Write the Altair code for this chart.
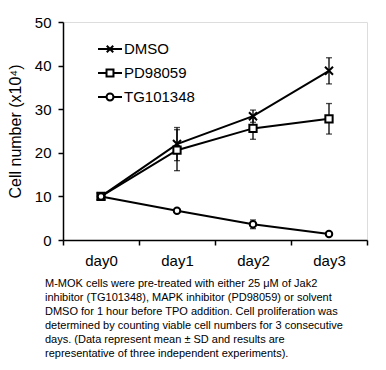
import altair as alt
import pandas as pd

days = ["day0", "day1", "day2", "day3"]
series = ["DMSO", "PD98059", "TG101348"]
dmso_mean = [10.0, 22.0, 28.4, 38.8]
dmso_sd = [0.0, 3.8, 1.4, 3.0]
pd_mean = [10.0, 20.6, 25.6, 27.8]
pd_sd = [0.0, 4.7, 2.5, 3.5]
tg_mean = [10.0, 6.7, 3.6, 1.4]
tg_sd = [0.0, 0.4, 1.0, 0.4]

caption = [
    "M-MOK cells were pre-treated with either 25 \u03bcM of Jak2",
    "inhibitor (TG101348), MAPK inhibitor (PD98059) or solvent",
    "DMSO for 1 hour before TPO addition. Cell proliferation was",
    "determined by counting viable cell numbers for 3 consecutive",
    "days. (Data represent mean \u00b1 SD and results are",
    "representative of three independent experiments).",
]

rows = []
for name, means, sds in [("DMSO", dmso_mean, dmso_sd), ("PD98059", pd_mean, pd_sd), ("TG101348", tg_mean, tg_sd)]:
    for d, m, s in zip(days, means, sds):
        rows.append({"day": d, "series": name, "mean": m, "lo": m - s, "hi": m + s, "sd": s})
df = pd.DataFrame(rows)

FONT = "Liberation Sans"

x_enc = alt.X(
    "day:N",
    sort=days,
    scale=alt.Scale(type="band", paddingInner=0, paddingOuter=0),
    axis=alt.Axis(
        title=None, tickBand="extent", labelAngle=0, labelFontSize=15,
        labelFont=FONT, labelColor="black", labelPadding=8, tickSize=5,
        tickColor="black", tickWidth=1.5, domainColor="black", domainWidth=1.5,
        grid=False,
    ),
)
y_scale = alt.Scale(domain=[0, 50], nice=False, zero=True)
y_axis = alt.Axis(
    title="Cell number (x10\u2074)", values=[0, 10, 20, 30, 40, 50],
    labelFontSize=15, labelFont=FONT, labelColor="black", labelPadding=7,
    tickSize=5, tickColor="black", tickWidth=1.5, domainColor="black",
    domainWidth=1.5, grid=False, titleFont=FONT, titleFontSize=16,
    titleFontWeight="normal", titleColor="black", titlePadding=11,
)

base = alt.Chart(df)

err = base.transform_filter("datum.sd > 0").mark_rule(color="black", strokeWidth=1.3).encode(
    x=x_enc, y=alt.Y("lo:Q", scale=y_scale, axis=y_axis), y2="hi:Q"
)
cap_lo = base.transform_filter("datum.sd > 0").mark_tick(
    orient="horizontal", size=6, thickness=1.3, color="black"
).encode(x=x_enc, y=alt.Y("lo:Q", scale=y_scale))
cap_hi = base.transform_filter("datum.sd > 0").mark_tick(
    orient="horizontal", size=6, thickness=1.3, color="black"
).encode(x=x_enc, y=alt.Y("hi:Q", scale=y_scale))

lines = base.mark_line(color="black", strokeWidth=2).encode(
    x=x_enc, y=alt.Y("mean:Q", scale=y_scale), detail="series:N"
)

points = base.mark_point(filled=False, fill="white", fillOpacity=1, stroke="black",
                         strokeWidth=2, opacity=1).encode(
    x=x_enc,
    y=alt.Y("mean:Q", scale=y_scale),
    shape=alt.Shape("series:N", legend=None, scale=alt.Scale(
        domain=series, range=["M-1,-1L1,1M-1,1L1,-1", "square", "circle"])),
    size=alt.Size("series:N", legend=None, scale=alt.Scale(domain=series, range=[64, 42, 36])),
)

leg_paths = [
    "M-1,0H1M-0.27,-0.27L0.27,0.27M-0.27,0.27L0.27,-0.27",
    "M-1,0H-0.29M0.29,0H1M-0.29,-0.29H0.29V0.29H-0.29Z",
    "M-1,0H-0.29M0.29,0H1M0.29,0A0.29,0.29,0,1,1,-0.29,0A0.29,0.29,0,1,1,0.29,0Z",
]
legend_layer = base.mark_point(opacity=0).encode(
    x=x_enc,
    y=alt.Y("mean:Q", scale=y_scale),
    shape=alt.Shape("series:N", scale=alt.Scale(domain=series, range=leg_paths), legend=alt.Legend(
        title=None, orient="none", legendX=34, legendY=14, symbolSize=576,
        symbolStrokeColor="black", symbolFillColor="white", symbolStrokeWidth=2,
        symbolOpacity=1, labelFont=FONT, labelFontSize=15, labelColor="black",
        labelOffset=1, rowPadding=3, padding=0,
    )),
)

chart = alt.layer(err, cap_lo, cap_hi, lines, points, legend_layer).resolve_scale(
    shape="independent"
).properties(
    width=304, height=218,
    padding={"left": 55, "top": 14, "right": 11, "bottom": 122},
    autosize=alt.AutoSizeParams(type="none"),
    title=alt.TitleParams(
        text=caption, orient="bottom", anchor="start", frame="group", dx=-18,
        offset=10, fontSize=11, font=FONT, fontWeight="normal", color="black",
        lineHeight=14, baseline="top",
    ),
).configure_view(stroke=None).configure(background="white")

chart.save("out.html", embed_options={"renderer": "svg", "actions": False})
